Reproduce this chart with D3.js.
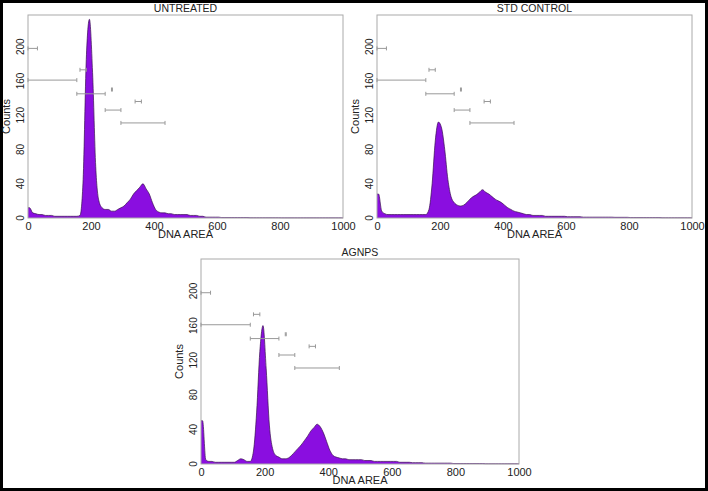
<!DOCTYPE html>
<html><head><meta charset="utf-8">
<script src="https://cdn.jsdelivr.net/npm/d3@7"></script>
<style>body{margin:0;background:#fff}svg{font-family:"Liberation Sans",Arial,sans-serif}</style>
</head><body><svg id="c" width="708" height="491"></svg>
<script>
const titles = ["UNTREATED","STD CONTROL","AGNPS"];
const binStart = d3.range(0,1000,10);
const untreated = [12,6,5,4,4,3,3,3,2,2,2,2,2,2,2,2,3,45,185,232,170,60,20,12,10,10,8,8,10,12,14,18,22,28,32,36,40,34,28,18,10,7,6,6,5,5,4,4,4,4,4,3,3,3,2,2,1,1,1,1,1,0.5,0.5,0.5,0.5,0.5,0.5,0.5,0.5,0.5,0.3,0.3,0.3,0.3,0.3,0.3,0.3,0.3,0.3,0.3,0.2,0.2,0.2,0.2,0.2,0.2,0.2,0.2,0.2,0.2,0.2,0.2,0.2,0.2,0.2,0.2,0.2,0.2,0.2,0.2];
const stdControl = [28,8,5,4,4,4,4,4,4,4,4,4,4,4,4,4,10,40,90,112,105,80,45,25,18,15,14,15,18,22,25,27,30,33,30,28,25,22,20,18,15,12,10,8,7,6,5,4,4,3,3,3,3,2,2,2,2,2,2,2,1.5,1.5,1.5,1.5,1.5,1,1,1,1,1,1,1,1,1,1,0.8,0.8,0.8,0.8,0.8,0.5,0.5,0.5,0.5,0.5,0.5,0.5,0.5,0.5,0.5,0.3,0.3,0.3,0.3,0.3,0.3,0.3,0.3,0.3,0.3];
const agnps = [50,5,3,3,2,2,2,2,2,2,2,4,6,5,3,3,15,60,130,160,110,45,18,10,8,6,6,7,10,14,18,22,27,32,38,42,46,43,36,26,16,10,8,7,6,6,5,5,5,5,5,4,4,4,3,3,3,3,3,3,3,3,2,2,2,2,1.5,1.5,1.5,1.5,1,1,1,1,1,1,1,1,1,0.5,0.5,0.5,0.5,0.5,0.5,0.5,0.5,0.5,0.5,0.3,0.3,0.3,0.3,0.3,0.3,0.3,0.3,0.3,0.3,0.3];
const seriesList = [untreated, stdControl, agnps];
const xTicks = [0,200,400,600,800,1000];
const yTicks = [0,40,80,120,160,200];
// gate markers: [x1, x2, y]
const gates = [[0,30,198],[0,155,161],[165,185,173],[155,245,145],[265,268,150],[245,295,126],[340,360,136],[295,435,111]];

const svg = d3.select("#c");
svg.append("rect").attr("x",1.5).attr("y",1.5).attr("width",705).attr("height",488).attr("fill","none").attr("stroke","#000").attr("stroke-width",3);

const panels = [
  {x0:28,x1:343,y0:15,y1:218},
  {x0:377,x1:692,y0:15,y1:218},
  {x0:201,x1:519,y0:259,y1:464}
];
panels.forEach((p,i)=>{
  const g = svg.append("g");
  const x = d3.scaleLinear().domain([0,1000]).range([p.x0,p.x1]);
  const y = d3.scaleLinear().domain([0,237]).range([p.y1,p.y0]);
  const data = seriesList[i];
  const pts = data.map((v,k)=>[binStart[k]+5,v]);
  pts.unshift([0,data[0]]);
  pts.push([1000,data[data.length-1]]);
  const area = d3.area().curve(d3.curveMonotoneX).x(d=>x(d[0])).y0(y(0)).y1(d=>y(d[1]));
  g.append("path").datum(pts).attr("d",area).attr("fill","#8a0ee0");
  g.append("path").datum(pts).attr("d",d3.line().curve(d3.curveMonotoneX).x(d=>x(d[0])).y(d=>y(d[1]))).attr("fill","none").attr("stroke","#3a1050").attr("stroke-width",0.7);
  g.append("rect").attr("x",p.x0).attr("y",p.y0).attr("width",p.x1-p.x0).attr("height",p.y1-p.y0).attr("fill","none").attr("stroke","#aaa");
  gates.forEach(gt=>{
    const yy = y(gt[2]);
    g.append("line").attr("x1",x(gt[0])).attr("x2",x(gt[1])).attr("y1",yy).attr("y2",yy).attr("stroke","#999");
    [gt[0],gt[1]].forEach(v=>g.append("line").attr("x1",x(v)).attr("x2",x(v)).attr("y1",yy-2).attr("y2",yy+2).attr("stroke","#999"));
  });
  const xa = g.append("g").attr("transform",`translate(0,${p.y1})`).call(d3.axisBottom(x).tickValues(xTicks).tickFormat(d3.format("d")).tickSize(0).tickPadding(4));
  xa.select(".domain").remove();
  xa.selectAll("text").attr("font-size",11).attr("fill","#222");
  yTicks.forEach(t=>{
    g.append("text").attr("transform",`translate(${p.x0-4},${y(t)}) rotate(-90)`).attr("text-anchor","middle")
      .attr("font-size",10).attr("fill","#222").text(t);
  });
  g.append("text").attr("x",(p.x0+p.x1)/2).attr("y",p.y1+20).attr("text-anchor","middle").attr("font-size",11).attr("fill","#222").text("DNA AREA");
  g.append("text").attr("transform",`translate(${p.x0-18},${(p.y0+p.y1)/2}) rotate(-90)`).attr("text-anchor","middle").attr("font-size",11).attr("fill","#222").text("Counts");
  g.append("text").attr("x",(p.x0+p.x1)/2).attr("y",p.y0-3).attr("text-anchor","middle").attr("font-size",10.5).attr("fill","#222").text(titles[i]);
});
</script></body></html>
